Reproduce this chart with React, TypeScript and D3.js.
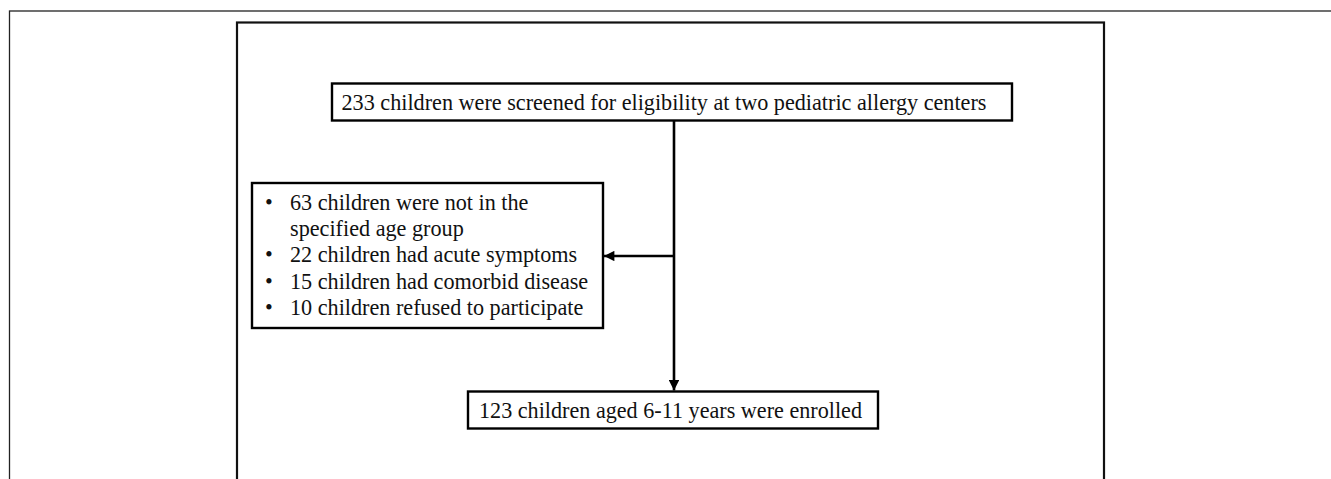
import { useMemo } from "react";
import * as d3 from "d3";

const WIDTH = 1331;
const HEIGHT = 479;

const screenedText = "233 children were screened for eligibility at two pediatric allergy centers";
const exclusionLines = [
  { bullet: true, text: "63 children were not in the" },
  { bullet: false, text: "specified age group" },
  { bullet: true, text: "22 children had acute symptoms" },
  { bullet: true, text: "15 children had comorbid disease" },
  { bullet: true, text: "10 children refused to participate" },
];
const enrolledText = "123 children aged 6-11 years were enrolled";

const FONT = "Liberation Serif, Times New Roman, serif";
const FS = 22.2;

function App() {
  // flow steps laid out on a vertical scale
  const y = useMemo(
    () => d3.scaleLinear().domain([0, 1]).range([83.5, 391.5]),
    []
  );
  const spineX = 674;

  const topBox = { x: 332, y: y(0), w: 680, h: 37 };
  const exBox = { x: 252, y: 183, w: 351, h: 145 };
  const botBox = { x: 468, y: y(1), w: 410, h: 37 };

  const lineY = d3
    .scaleLinear()
    .domain([0, exclusionLines.length - 1])
    .range([209.5, 315]);

  const arrowY = 256;

  return (
    <svg
      width={WIDTH}
      height={HEIGHT}
      style={{ position: "absolute", left: 0, top: 0, background: "#fff", fontFamily: FONT }}
    >
      <defs>
        <marker
          id="head"
          viewBox="0 0 10 10"
          refX="10"
          refY="5"
          markerWidth="4.3"
          markerHeight="4"
          markerUnits="strokeWidth"
          orient="auto"
        >
          <path d="M0,0 L10,5 L0,10 Z" fill="#000" />
        </marker>
      </defs>

      {/* outer frame */}
      <rect x={9.5} y={11} width={WIDTH + 10} height={HEIGHT + 10} fill="none" stroke="#222" strokeWidth={1.3} />
      {/* inner frame */}
      <rect x={237} y={22.5} width={867} height={HEIGHT} fill="none" stroke="#111" strokeWidth={2.2} />

      {/* connectors */}
      <line
        x1={spineX}
        y1={topBox.y + topBox.h}
        x2={spineX}
        y2={botBox.y - 1}
        stroke="#000"
        strokeWidth={2.6}
        markerEnd="url(#head)"
      />
      <line
        x1={spineX}
        y1={arrowY}
        x2={exBox.x + exBox.w + 1}
        y2={arrowY}
        stroke="#000"
        strokeWidth={2.6}
        markerEnd="url(#head)"
      />

      {/* top box */}
      <rect x={topBox.x} y={topBox.y} width={topBox.w} height={topBox.h} fill="#fff" stroke="#000" strokeWidth={2.4} />
      <text x={341.5} y={110} fontSize={FS} fill="#111" textLength={645} lengthAdjust="spacingAndGlyphs">
        {screenedText}
      </text>

      {/* exclusion box */}
      <rect x={exBox.x} y={exBox.y} width={exBox.w} height={exBox.h} fill="#fff" stroke="#000" strokeWidth={2.4} />
      {exclusionLines.map((d, i) => (
        <g key={i}>
          {d.bullet && (
            <text x={265} y={lineY(i)} fontSize={FS} fill="#111">
              •
            </text>
          )}
          <text x={290} y={lineY(i)} fontSize={FS} fill="#111">
            {d.text}
          </text>
        </g>
      ))}

      {/* enrolled box */}
      <rect x={botBox.x} y={botBox.y} width={botBox.w} height={botBox.h} fill="#fff" stroke="#000" strokeWidth={2.4} />
      <text x={479} y={418} fontSize={FS} fill="#111" textLength={383} lengthAdjust="spacingAndGlyphs">
        {enrolledText}
      </text>
    </svg>
  );
}

export default App;
